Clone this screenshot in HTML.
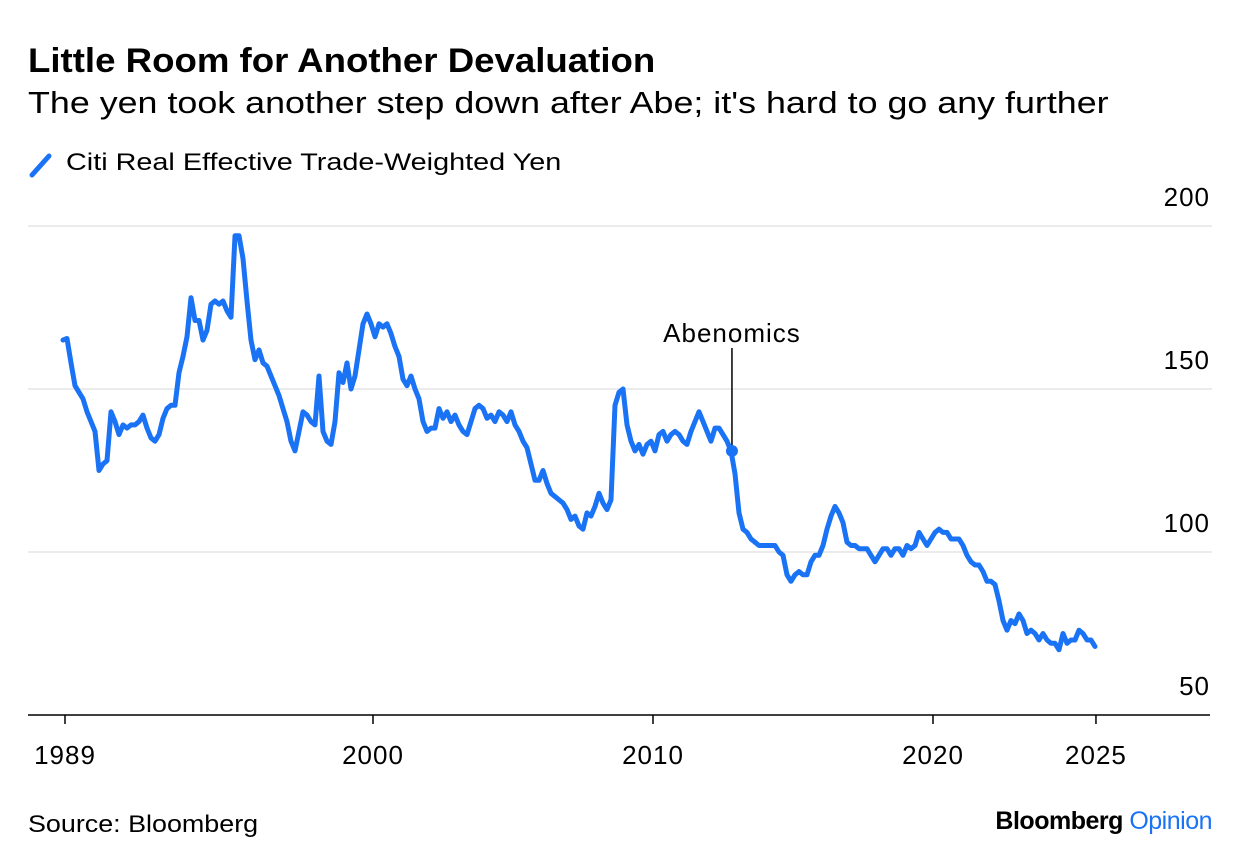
<!DOCTYPE html>
<html><head><meta charset="utf-8">
<style>
body{margin:0;background:#fff;font-family:"Liberation Sans",Arial,sans-serif;}
#wrap{position:relative;width:1240px;height:866px;overflow:hidden;}
.t{position:absolute;white-space:nowrap;color:#000;transform-origin:0 0;}
</style></head>
<body>
<div id="wrap">
<div class="t" style="left:28px;top:42px;font-size:34px;font-weight:bold;transform:scaleX(1.077);">Little Room for Another Devaluation</div>
<div class="t" style="left:28px;top:85px;font-size:31px;transform:scaleX(1.156);">The yen took another step down after Abe; it's hard to go any further</div>
<div style="position:absolute;left:28px;top:148px;height:30px;">
<svg width="30" height="30" style="position:absolute;left:0;top:2px"><line x1="4" y1="25" x2="21" y2="6" stroke="#1a73f5" stroke-width="5" stroke-linecap="round"/></svg>
<span class="t" style="left:38px;top:1px;font-size:24px;transform:scaleX(1.2);">Citi Real Effective Trade-Weighted Yen</span>
</div>
<svg id="chart" width="1240" height="866" style="position:absolute;left:0;top:0"></svg>
<div class="t" style="left:28px;top:811px;font-size:24px;transform:scaleX(1.12);">Source: Bloomberg</div>
<div class="t" style="right:28px;top:807px;font-size:25px;font-weight:bold;letter-spacing:-0.5px;">Bloomberg <span style="color:#1a73f5;font-weight:normal">Opinion</span></div>
</div>
<script>
const startYear = 1988.93;
const stepYears = 1/7;
const values = [165,165.5,158,151,149,147,143,140,137,125,127,128,143,140,136,139,138,139,139,140,142,138,135,134,136,141,144,145,145,155,160,166,178,171,171,165,168,176,177,176,177,174,172,197,197,190,177,165,159,162,158,157,154,151,148,144,140,134,131,137,143,142,140,139,154,137,134,133,140,155,152,158,150,154,162,170,173,170,166,170,169,170,167,163,160,153,151,154,150,147,140,137,138,138,144,141,143,140,142,139,137,136,140,144,145,144,141,142,140,143,142,140,143,139,137,134,132,127,122,122,125,121,118,117,116,115,113,110,111,108,107,112,111,114,118,115,113,116,145,149,150,139,134,131,133,130,133,134,131,136,137,134,136,137,136,134,133,137,140,143,140,137,134,138,138,136,134,131,124,112,107,106,104,103,102,102,102,102,102,100,99,93,91,93,94,93,93,97,99,99,102,107,111,114,112,109,103,102,102,101,101,101,99,97,99,101,101,99,101,101,99,102,101,102,106,104,102,104,106,107,106,106,104,104,104,102,99,97,96,96,94,91,91,90,85,79,76,79,78,81,79,75,76,75,73,75,73,72,72,70,75,72,73,73,76,75,73,73,71];
const yTicks = [50,100,150,200];
const xTickYears = [1989,2000,2010,2020,2025.82];
const xTickLabels = ["1989","2000","2010","2020","2025"];
const annotYear = 2012.82, annotValue = 131, annotLabel = "Abenomics";

const NS="http://www.w3.org/2000/svg";
const svg=document.getElementById('chart');
const X=t=>65+(t-1989)*28;
const Y=v=>715-(v-50)*3.26;
function mk(tag,attrs){const e=document.createElementNS(NS,tag);for(const k in attrs)e.setAttribute(k,attrs[k]);svg.appendChild(e);return e;}
yTicks.forEach(v=>{
  if(v>50){const g=mk('line',{x1:28,x2:1212,y1:Y(v),y2:Y(v),stroke:'#ebebeb','stroke-width':2});
  
  }
  const t=mk('text',{x:1210,y:Y(v)-20,'text-anchor':'end','font-size':26,'letter-spacing':1,'font-family':'Liberation Sans, sans-serif',fill:'#000'});
  t.textContent=v;
  
  
});
const ax=mk('line',{x1:28,x2:1210,y1:715,y2:715,stroke:'#000','stroke-width':1.5});


xTickYears.forEach((yr,i)=>{
  const tk=mk('line',{x1:X(yr),x2:X(yr),y1:715,y2:724,stroke:'#000','stroke-width':1.5});
  
  
  const t=mk('text',{x:X(yr),y:764,'text-anchor':'middle','font-size':26,'letter-spacing':1,'font-family':'Liberation Sans, sans-serif',fill:'#000'});
  t.textContent=xTickLabels[i];
  
  
});
let d='';
values.forEach((v,i)=>{const t=startYear+i*stepYears;d+=(i?'L':'M')+X(t).toFixed(1)+','+Y(v).toFixed(1);});
const p=mk('path',{d:d,fill:'none',stroke:'#1a73f5','stroke-width':5,'stroke-linejoin':'round','stroke-linecap':'round'});


const al=mk('line',{x1:X(annotYear),x2:X(annotYear),y1:348,y2:Y(annotValue),stroke:'#000','stroke-width':1.5});


const ad=mk('circle',{cx:X(annotYear),cy:Y(annotValue),r:6,fill:'#1a73f5'});


const at=mk('text',{x:X(annotYear),y:342,'text-anchor':'middle','font-size':26,'letter-spacing':1,'font-family':'Liberation Sans, sans-serif',fill:'#000'});
at.textContent=annotLabel;


</script>
</body></html>
